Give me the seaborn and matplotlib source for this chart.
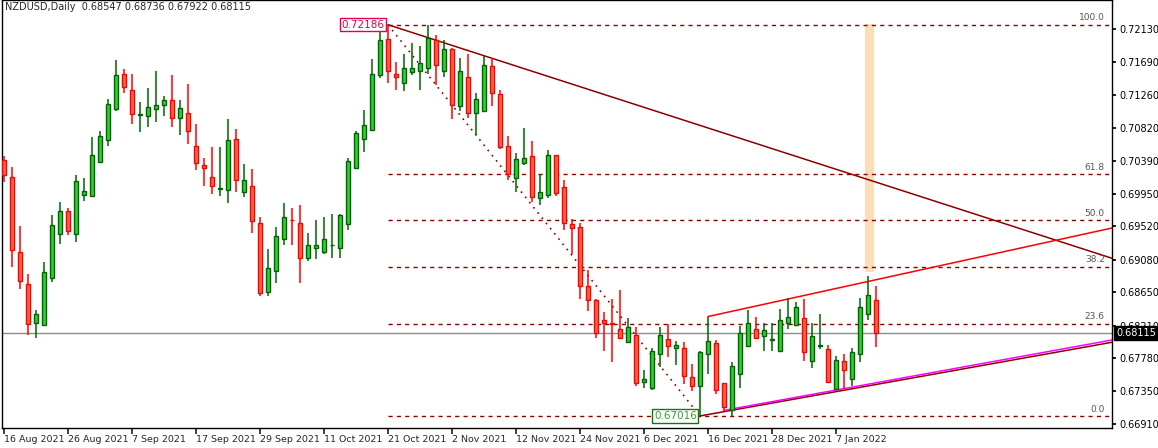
import numpy as np
import pandas as pd
import matplotlib
matplotlib.use("Agg")
import matplotlib.pyplot as plt
import seaborn as sns

opens = [.7040,.7017,.6918,.6876,.6824,.6822,.6884,.6942,.6972,.6942,.6993,.6992,.7037,.7066,.7107,.7154,.7133,.7099,.7098,.7107,
         .7112,.7119,.7096,.7102,.7059,.7033,.7018,.7002,.7000,.7067,.6997,.7005,.6956,.6865,.6893,.6936,.6961,.6956,.6910,.6923,
         .6918,.6927,.6923,.6955,.7029,.7067,.7079,.7152,.7200,.7154,.7141,.7156,.7157,.7162,.7199,.7158,.7187,.7111,.7150,.7102,
         .7104,.7164,.7127,.7058,.7016,.7036,.7045,.6989,.6993,.7046,.7004,.6955,.6951,.6874,.6855,.6829,.6825,.6816,.6800,.6809,
         .6747,.6739,.6784,.6803,.6791,.6791,.6753,.6741,.6783,.6798,.6745,.6710,.6757,.6794,.6816,.6807,.6802,.6788,.6825,.6822,
         .6831,.6774,.6794,.6790,.6737,.6774,.6750,.6784,.6836,.68547]
highs = [.7045,.7031,.6953,.6889,.6842,.6905,.6967,.6984,.6977,.7020,.7016,.7070,.7078,.7120,.7172,.7160,.7154,.7116,.7135,.7157,
         .7124,.7152,.7119,.7140,.7088,.7043,.7057,.7057,.7094,.7081,.7035,.7028,.6964,.6922,.6951,.6983,.6976,.6980,.6944,.6960,
         .6965,.6969,.6968,.7042,.7078,.7106,.7173,.7211,.72186,.7169,.7180,.7195,.7190,.7218,.7205,.7199,.7188,.7174,.7180,.7128,
         .7178,.7174,.7133,.7072,.7049,.7082,.7065,.7021,.7053,.7047,.7014,.6962,.6957,.6894,.6856,.6839,.6856,.6868,.6831,.6819,
         .6763,.6791,.6819,.6823,.6801,.6800,.6770,.6787,.6833,.6802,.6745,.6773,.6821,.6841,.6832,.6825,.6825,.6843,.6857,.6852,
         .6856,.6824,.6837,.6796,.6781,.6783,.6791,.6857,.6887,.68736]
lows = [.7011,.6899,.6869,.6808,.6805,.6822,.6879,.6929,.6941,.6932,.6986,.6991,.7036,.7058,.7104,.7128,.7087,.7077,.7083,.7090,
        .7098,.7083,.7073,.7061,.7026,.7006,.6995,.6992,.6983,.6997,.6991,.6943,.6860,.6860,.6877,.6927,.6928,.6877,.6907,.6909,
        .6916,.6911,.6911,.6947,.7028,.7050,.7078,.7148,.7141,.7132,.7131,.7152,.7132,.7154,.7139,.7150,.7094,.7104,.7096,.7073,
        .7103,.7111,.7055,.7013,.6997,.7033,.6985,.6980,.6989,.6992,.6948,.6916,.6856,.6840,.6804,.6787,.6773,.6803,.6799,.6741,
        .6739,.6736,.6766,.6780,.6769,.6744,.6734,.67016,.6757,.6730,.6707,.6702,.6739,.6794,.6803,.6788,.6788,.6786,.6816,.6820,
        .6774,.6765,.6790,.6745,.6737,.6737,.6741,.6773,.6828,.67922]
closes = [.7020,.6921,.6880,.6823,.6837,.6892,.6954,.6972,.6946,.7012,.6999,.7046,.7071,.7114,.7152,.7136,.7100,.7100,.7110,.7112,
          .7119,.7096,.7108,.7078,.7036,.7029,.7006,.7003,.7066,.7013,.7013,.6959,.6864,.6897,.6939,.6964,.6960,.6910,.6928,.6928,
          .6936,.6928,.6967,.7038,.7075,.7086,.7153,.7199,.7158,.7149,.7162,.7161,.7168,.7201,.7166,.7187,.7112,.7158,.7102,.7120,
          .7165,.7128,.7057,.7021,.7041,.7043,.6991,.6997,.7047,.6996,.6956,.6950,.6873,.6855,.6811,.6824,.6823,.6805,.6819,.6745,
          .6751,.6787,.6808,.6794,.6796,.6754,.6741,.6786,.6801,.6736,.6713,.6767,.6811,.6825,.6805,.6815,.6803,.6828,.6832,.6845,
          .6786,.6807,.6796,.6746,.6775,.6762,.6786,.6846,.6861,.68115]

date_labels = ["16 Aug 2021","26 Aug 2021","7 Sep 2021","17 Sep 2021","29 Sep 2021","11 Oct 2021","21 Oct 2021",
               "2 Nov 2021","12 Nov 2021","24 Nov 2021","6 Dec 2021","16 Dec 2021","28 Dec 2021","7 Jan 2022"]
price_ticks = [0.66910,0.67350,0.67780,0.68210,0.68650,0.69080,0.69520,0.69950,0.70390,0.70820,0.71260,0.71690,0.72130]
fib_high, fib_low = 0.72186, 0.67016
fib_pcts = [0.0, 23.6, 38.2, 50.0, 61.8, 100.0]
title = "NZDUSD,Daily  0.68547 0.68736 0.67922 0.68115"

df = pd.DataFrame({"o": opens, "h": highs, "l": lows, "c": closes})
df["i"] = np.arange(len(df))
df["up"] = df["c"] >= df["o"]

sns.set_theme(style="white")
plt.rcParams["font.family"] = ["DejaVu Sans"]
fig = plt.figure(figsize=(11.58, 4.48), dpi=100)
ax = fig.add_axes([2/1158, 20/448, 1110/1158, 428/448])
ax.set_xlim(-0.25, 138.5)
ax.set_ylim(0.66857, 0.72513)

DR = "#8b0000"
ax.fill_between([107.6, 108.8], 0.6892, 0.7220, color="#fddcb8", zorder=0, lw=0)
ax.axhline(closes[-1], color="#8c8c8c", lw=1, zorder=1)
rng = fib_high - fib_low
for p in fib_pcts:
    lv = fib_low + rng * p / 100
    ax.plot([48, 138.5], [lv, lv], ls=(0, (3, 3)), color=DR, lw=1, zorder=1)
    ax.text(137.6, lv + 0.0003, f"{p:.1f}", ha="right", va="bottom", fontsize=6.5, color="#555555")
ax.plot([48, 87], [fib_high, fib_low], ls=(0, (1, 3)), color=DR, lw=1.2, zorder=1)
ax.plot([48, 138.5], [fib_high, 0.6910], color=DR, lw=1.1, zorder=2)
ax.plot([88, 138.5], [0.6833, 0.6950], color="#ff0000", lw=1.1, zorder=2)
ax.plot([87, 138.5], [fib_low, 0.6799], color=DR, lw=1.1, zorder=2)
ax.plot([90, 138.5], [0.6709, 0.6802], color="#ff00ff", lw=1.1, zorder=2)

for up, fill, edge in [(True, "#32cd32", "#006400"), (False, "#ff6347", "#ff0000")]:
    d = df[df["up"] == up]
    ax.vlines(d["i"], d["l"], d["h"], color=edge, lw=1.1, zorder=3)
    bot = np.minimum(d["o"], d["c"])
    hgt = np.maximum(np.abs(d["c"] - d["o"]), 0.00004)
    ax.bar(d["i"], hgt, bottom=bot, width=0.6, color=fill, edgecolor=edge, lw=1, zorder=4)

ax.text(47.6, fib_high, f"{fib_high:.5f}", ha="right", va="center", fontsize=7.5, color="#e0004d",
        bbox=dict(boxstyle="square,pad=0.15", fc="white", ec="#e0004d", lw=1), zorder=6)
ax.text(86.6, fib_low, f"{fib_low:.5f}", ha="right", va="center", fontsize=7.5, color="#3a9a3a",
        bbox=dict(boxstyle="square,pad=0.15", fc="white", ec="#008000", lw=1), zorder=6)

ax.yaxis.tick_right()
ax.set_yticks(price_ticks)
ax.set_yticklabels([f"{v:.5f}" for v in price_ticks], fontsize=7)
ax.tick_params(axis="y", length=3, pad=2, colors="black", right=True)
ax.set_xticks(np.arange(0, 8 * len(date_labels), 8))
ax.set_xticklabels(date_labels, fontsize=6.8, ha="left")
ax.tick_params(axis="x", length=4, pad=1, bottom=True)
for s in ax.spines.values():
    s.set_color("black"); s.set_linewidth(1)
ax.grid(False)
ax.text(0.003, 0.995, title, transform=ax.transAxes, ha="left", va="top", fontsize=7)
ax.annotate(f"{closes[-1]:.5f}", xy=(1, closes[-1]), xycoords=("axes fraction", "data"),
            xytext=(3, 0), textcoords="offset points", ha="left", va="center", fontsize=7, color="white",
            bbox=dict(boxstyle="square,pad=0.2", fc="black", ec="black"), zorder=10, annotation_clip=False)
fig.savefig("out.png", dpi=100, facecolor="white")
